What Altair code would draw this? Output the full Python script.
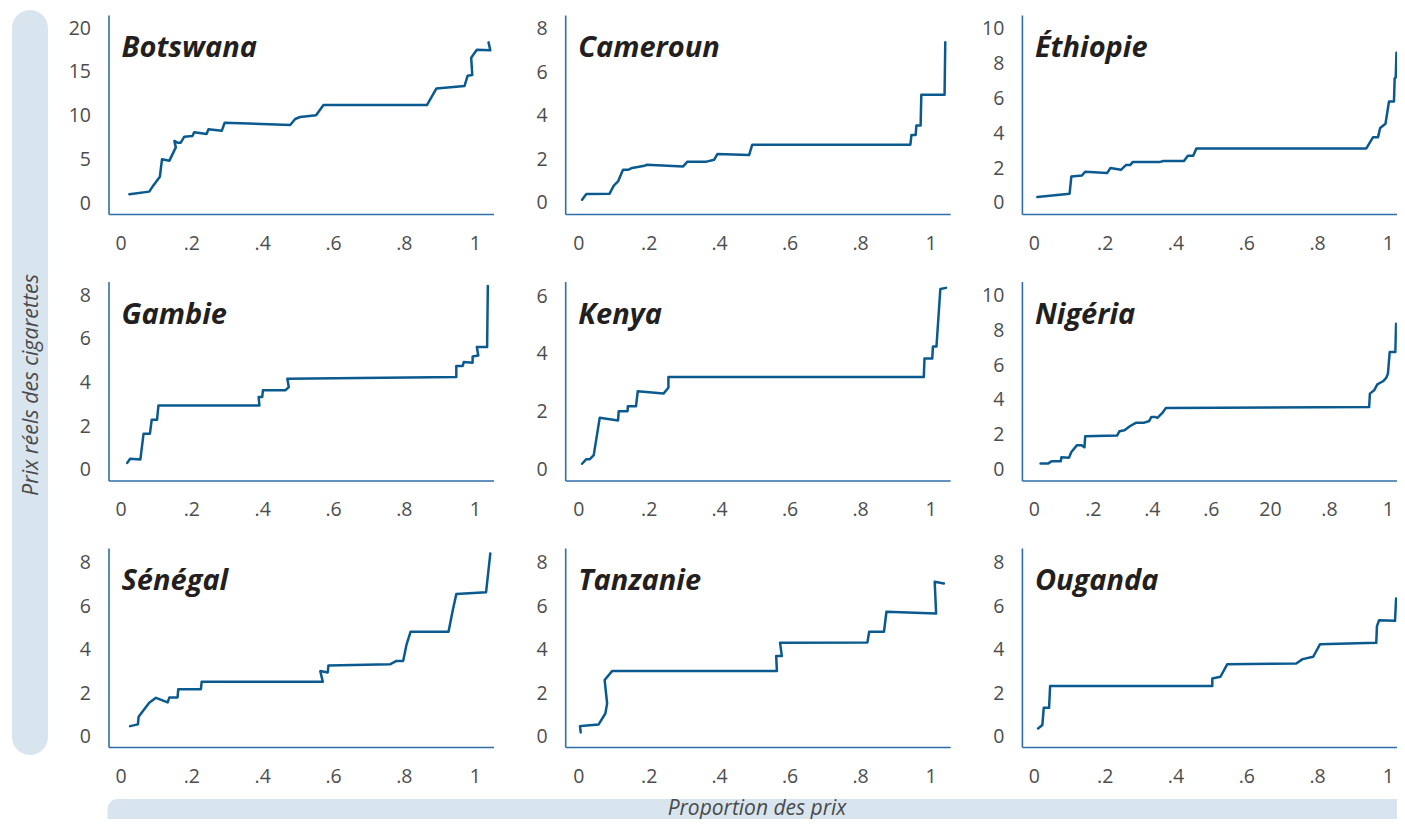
import altair as alt
import pandas as pd

# ---------------- data ----------------
BOTSWANA_X = [0.025, 0.081, 0.089, 0.111, 0.117, 0.138, 0.156, 0.152, 0.161, 0.170, 0.180, 0.203, 0.208,
              0.243, 0.248, 0.286, 0.294, 0.479, 0.493, 0.507, 0.552, 0.573, 0.865, 0.892, 0.971, 0.980,
              0.993, 0.990, 1.006, 1.044, 1.039]
BOTSWANA_Y = [0.99, 1.30, 1.79, 3.00, 4.99, 4.84, 6.36, 7.09, 6.90, 6.90, 7.58, 7.66, 8.08,
              7.89, 8.42, 8.27, 9.18, 8.91, 9.60, 9.83, 10.02, 11.20, 11.20, 13.10, 13.37, 14.55,
              14.63, 16.60, 17.52, 17.45, 18.36]

CAMEROUN_X = [0.011, 0.023, 0.089, 0.101, 0.113, 0.127, 0.143, 0.153, 0.188, 0.195, 0.298, 0.310, 0.364,
              0.386, 0.395, 0.485, 0.494, 0.943, 0.946, 0.958, 0.960, 0.972, 0.974, 1.040, 1.042]
CAMEROUN_Y = [0.15, 0.41, 0.43, 0.80, 0.99, 1.53, 1.53, 1.61, 1.71, 1.76, 1.68, 1.90, 1.90,
              1.99, 2.25, 2.20, 2.68, 2.68, 3.13, 3.13, 3.56, 3.56, 4.97, 4.97, 7.39]

ETHIOPIE_X = [0.010, 0.101, 0.106, 0.136, 0.145, 0.207, 0.216, 0.246, 0.260, 0.272, 0.279, 0.354, 0.366,
              0.424, 0.435, 0.450, 0.459, 0.939, 0.958, 0.972, 0.978, 0.993, 1.003, 1.017, 1.019, 1.022,
              1.024]
ETHIOPIE_Y = [0.34, 0.53, 1.52, 1.58, 1.79, 1.71, 2.00, 1.90, 2.17, 2.17, 2.34, 2.34, 2.40,
              2.40, 2.70, 2.70, 3.12, 3.12, 3.77, 3.77, 4.29, 4.53, 5.81, 5.81, 7.14, 7.18,
              8.60]

GAMBIE_X = [0.019, 0.027, 0.056, 0.065, 0.083, 0.088, 0.103, 0.107, 0.392, 0.390, 0.400, 0.402, 0.465,
            0.475, 0.471, 0.948, 0.948, 0.966, 0.969, 0.994, 0.994, 1.010, 1.006, 1.035, 1.037]
GAMBIE_Y = [0.31, 0.50, 0.47, 1.65, 1.65, 2.29, 2.29, 2.95, 2.95, 3.33, 3.33, 3.64, 3.64,
            3.79, 4.17, 4.25, 4.76, 4.76, 4.94, 4.91, 5.20, 5.24, 5.63, 5.63, 8.43]

KENYA_X = [0.011, 0.023, 0.033, 0.044, 0.061, 0.113, 0.115, 0.140, 0.141, 0.164, 0.169, 0.242, 0.256,
           0.256, 0.981, 0.983, 1.005, 1.007, 1.017, 1.028, 1.044]
KENYA_Y = [0.20, 0.36, 0.36, 0.50, 1.79, 1.70, 2.02, 2.02, 2.19, 2.19, 2.71, 2.63, 2.83,
           3.20, 3.20, 3.84, 3.84, 4.26, 4.26, 6.25, 6.29]

NIGERIA_X = [0.019, 0.040, 0.050, 0.076, 0.078, 0.099, 0.106, 0.122, 0.134, 0.143, 0.145, 0.235, 0.242,
             0.256, 0.272, 0.288, 0.310, 0.326, 0.332, 0.343, 0.349, 0.363, 0.373, 0.947, 0.949, 0.961,
             0.970, 0.986, 0.995, 1.000, 1.005, 1.021, 1.023]
NIGERIA_Y = [0.34, 0.34, 0.48, 0.48, 0.71, 0.67, 1.01, 1.40, 1.40, 1.28, 1.91, 1.95, 2.20,
             2.26, 2.50, 2.68, 2.68, 2.79, 3.02, 3.02, 2.96, 3.25, 3.54, 3.59, 4.36, 4.55,
             4.89, 5.07, 5.26, 5.51, 6.75, 6.75, 8.37]

SENEGAL_X = [0.027, 0.049, 0.051, 0.081, 0.100, 0.133, 0.138, 0.161, 0.163, 0.227, 0.229, 0.571, 0.564,
             0.585, 0.587, 0.762, 0.779, 0.798, 0.807, 0.819, 0.926, 0.938, 0.948, 1.032, 1.044]
SENEGAL_Y = [0.49, 0.57, 0.92, 1.56, 1.79, 1.58, 1.81, 1.81, 2.19, 2.19, 2.53, 2.53, 3.02,
             2.96, 3.28, 3.34, 3.49, 3.49, 4.21, 4.83, 4.83, 5.82, 6.56, 6.64, 8.43]

TANZANIE_X = [0.007, 0.005, 0.016, 0.058, 0.077, 0.082, 0.075, 0.096, 0.564, 0.562, 0.578, 0.573, 0.821,
              0.826, 0.868, 0.875, 1.016, 1.012, 1.038]
TANZANIE_Y = [0.20, 0.49, 0.51, 0.57, 1.07, 1.53, 2.61, 3.02, 3.02, 3.71, 3.71, 4.32, 4.34,
              4.83, 4.83, 5.75, 5.67, 7.13, 7.05]

OUGANDA_X = [0.012, 0.024, 0.028, 0.043, 0.046, 0.504, 0.504, 0.527, 0.546, 0.741, 0.759, 0.789, 0.808,
             0.967, 0.969, 0.975, 1.020, 1.023]
OUGANDA_Y = [0.38, 0.54, 1.33, 1.33, 2.33, 2.34, 2.68, 2.76, 3.33, 3.37, 3.57, 3.68, 4.25,
             4.32, 5.09, 5.36, 5.33, 6.36]

COUNTRIES = ["Botswana", "Cameroun", "Éthiopie", "Gambie", "Kenya", "Nigéria",
             "Sénégal", "Tanzanie", "Ouganda"]
SERIES_X = [BOTSWANA_X, CAMEROUN_X, ETHIOPIE_X, GAMBIE_X, KENYA_X, NIGERIA_X,
            SENEGAL_X, TANZANIE_X, OUGANDA_X]
SERIES_Y = [BOTSWANA_Y, CAMEROUN_Y, ETHIOPIE_Y, GAMBIE_Y, KENYA_Y, NIGERIA_Y,
            SENEGAL_Y, TANZANIE_Y, OUGANDA_Y]

Y_TICKS = [[0, 5, 10, 15, 20], [0, 2, 4, 6, 8], [0, 2, 4, 6, 8, 10],
           [0, 2, 4, 6, 8], [0, 2, 4, 6], [0, 2, 4, 6, 8, 10],
           [0, 2, 4, 6, 8], [0, 2, 4, 6, 8], [0, 2, 4, 6, 8]]
Y_DOMAINS = [[-1.257, 21.49], [-0.506, 8.64], [-0.63, 10.76],
             [-0.50, 8.64], [-0.38, 6.51], [-0.63, 10.8],
             [-0.47, 8.68], [-0.47, 8.68], [-0.47, 8.68]]

X_TICK_LABELS = ["0", ".2", ".4", ".6", ".8", "1"]
X_TICK_LABELS_NIGERIA = ["0", ".2", ".4", ".6", "20", ".8", "1"]

Y_TITLE = "Prix réels des cigarettes"
X_TITLE = "Proportion des prix"

# ---------------- styling / layout ----------------
LINE_COLOR = "#0b5a8f"
AXIS_COLOR = "#2f6ea6"
BAND_COLOR = "#d9e5ee"
FONT = "Open Sans"

PANEL_H = 199
COL_W = [385, 385, 375]
COL_GAP = 71.7
PLOT_LEFT = 108.5             # page x of the first column's plot area
RIGHT_EDGE = 1397             # keep the page from overflowing horizontally
X_DOMAINS = [[-0.034, 1.053], [-0.037, 1.056], [-0.0337, 1.0253]]
EY = 50   # fixed y-axis extent
EX = 45   # fixed x-axis extent


def panel(k):
    name = COUNTRIES[k]
    col = k % 3
    df = pd.DataFrame({"x": SERIES_X[k], "y": SERIES_Y[k], "i": list(range(len(SERIES_X[k])))})
    labels = X_TICK_LABELS_NIGERIA if name == "Nigéria" else X_TICK_LABELS
    n = len(labels) - 1
    xvals = [j / n for j in range(n + 1)]
    arr = "[" + ",".join("'%s'" % s for s in labels) + "]"
    line = alt.Chart(df).mark_line(
        color=LINE_COLOR, strokeWidth=2.5, clip=True, strokeJoin="round", strokeCap="round"
    ).encode(
        x=alt.X("x:Q", title=None,
                scale=alt.Scale(domain=X_DOMAINS[col], nice=False, zero=False),
                axis=alt.Axis(values=xvals, labelExpr=arr + "[round(datum.value*%d)]" % n,
                              labelPadding=20, minExtent=EX, maxExtent=EX)),
        y=alt.Y("y:Q", title=None,
                scale=alt.Scale(domain=Y_DOMAINS[k], nice=False, zero=False),
                axis=alt.Axis(values=Y_TICKS[k], labelPadding=18, minExtent=EY, maxExtent=EY)),
        order=alt.Order("i:Q"),
    )
    tdf = pd.DataFrame({"t": [name]})
    title = alt.Chart(tdf).mark_text(
        font=FONT, fontSize=29, fontWeight="bold", fontStyle="italic",
        color="#231f20", align="left", baseline="alphabetic"
    ).encode(x=alt.value(13), y=alt.value(42), text="t:N")
    return alt.layer(line, title).properties(width=COL_W[col], height=PANEL_H)


rows = [alt.hconcat(*[panel(r * 3 + c) for c in range(3)], spacing=COL_GAP - EY) for r in range(3)]
grid = alt.vconcat(*rows, spacing=67.5 - EX)

# left band: its origin is aligned with the top of the first row of plots
left_df = pd.DataFrame({"t": [Y_TITLE]})
left_band = alt.layer(
    alt.Chart(left_df).mark_rect(color=BAND_COLOR, cornerRadius=18).encode(
        x=alt.value(0), x2=alt.value(36), y=alt.value(-5), y2=alt.value(740)),
    alt.Chart(left_df).mark_text(font=FONT, fontSize=21.5, fontStyle="italic", color="#4a4a4a",
                                 angle=270, align="center", baseline="middle").encode(
        x=alt.value(20), y=alt.value(370), text="t:N"),
).properties(width=36, height=735)

BOTTOM_H = 20                 # band runs down to the bottom of the page
BOTTOM_W = RIGHT_EDGE - PLOT_LEFT
bottom_df = pd.DataFrame({"t": [X_TITLE]})
bottom_band = alt.layer(
    alt.Chart(bottom_df).mark_rect(color=BAND_COLOR, cornerRadiusTopLeft=15).encode(
        x=alt.value(-1), x2=alt.value(BOTTOM_W), y=alt.value(0), y2=alt.value(BOTTOM_H)),
    alt.Chart(bottom_df).mark_text(font=FONT, fontSize=21, fontStyle="italic", color="#4a4a4a",
                                   align="center", baseline="middle").encode(
        x=alt.value(757 - PLOT_LEFT), y=alt.value(9.5), text="t:N"),
).properties(width=BOTTOM_W, height=BOTTOM_H)

right_part = alt.vconcat(grid, bottom_band, spacing=797 - (747 + EX))

chart = alt.hconcat(left_band, right_part, spacing=(PLOT_LEFT - EY) - 48).properties(
    padding={"left": 4, "top": 2, "right": 0, "bottom": 0}
).configure_axis(
    grid=False, ticks=False, domainColor=AXIS_COLOR, domainWidth=1.6,
    labelFont=FONT, labelFontSize=19.5, labelColor="#4d4d4d",
).configure_view(strokeWidth=0)

chart.save("out.html", embed_options={"renderer": "svg", "actions": False})
